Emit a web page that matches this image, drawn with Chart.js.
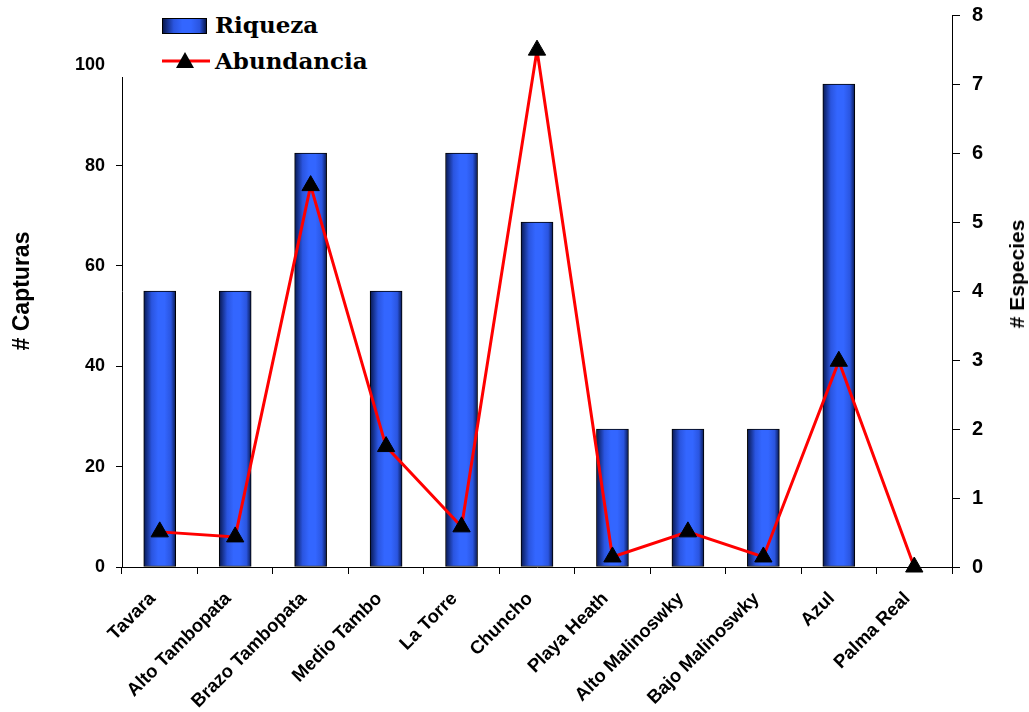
<!DOCTYPE html>
<html>
<head>
<meta charset="utf-8">
<script src="https://cdn.jsdelivr.net/npm/chart.js@4.4.0/dist/chart.umd.min.js"></script>
<style>
    body { margin: 0; background: #fff; }
    #wrap { position: relative; width: 1029px; height: 712px; }
    #legend { position: absolute; left: 108px; top: 0; width: 275px; height: 77px; background: #fff; }
    .leg-item { position: absolute; left: 0; height: 30px; width: 275px; font: bold 23px "DejaVu Serif"; color: #000; }
    .leg-item span { position: absolute; left: 107px; top: 0px; }
    .swatch { position: absolute; left: 54px; top: 7px; width: 43px; height: 14px; border: 1px solid #000;
        background: linear-gradient(to right, #081850, #2a55e0 25%, #3366ff 45%, #3366ff 65%, #2a55e0 85%, #081850); }
    #rightTitle { position: absolute; left: 1017px; top: 274px; transform: translate(-50%, -50%) rotate(-90deg);
        font: bold 21px "Liberation Sans", Arial; white-space: nowrap; }
</style>
</head>
<body>
<div id="wrap">
    <canvas id="chart" width="1029" height="712"></canvas>
    <div id="legend">
        <div class="leg-item" style="top:11px"><div class="swatch"></div><span>Riqueza</span></div>
        <div class="leg-item" style="top:47px">
            <svg width="104" height="30" style="position:absolute;left:52px;top:0">
                <line x1="2" y1="14" x2="50" y2="14" stroke="#ff0000" stroke-width="3"/>
                <polygon points="25,5 34,21 16,21" fill="#000"/>
            </svg>
            <span>Abundancia</span>
        </div>
    </div>
    <div id="rightTitle"># Especies</div>
</div>
<script>
const sitios = ['Tavara', 'Alto Tambopata', 'Brazo Tambopata', 'Medio Tambo', 'La Torre', 'Chuncho',
    'Playa Heath', 'Alto Malinoswky', 'Bajo Malinoswky', 'Azul', 'Palma Real'];
const riqueza = [4, 4, 6, 4, 6, 5, 2, 2, 2, 7, 0];
const abundancia = [7, 6, 76, 24, 8, 103, 2, 7, 2, 41, 0];
const capturasTicks = [0, 20, 40, 60, 80, 100];
const especiesTicks = [0, 1, 2, 3, 4, 5, 6, 7, 8];

const BAR_W = 32;

function barGradient(ctx) {
    const xs = ctx.chart.scales.x;
    const cx = xs ? xs.getPixelForValue(ctx.dataIndex) : NaN;
    if (!isFinite(cx)) return '#3366ff';
    const g = ctx.chart.ctx.createLinearGradient(cx - BAR_W / 2, 0, cx + BAR_W / 2, 0);
    g.addColorStop(0, '#081850');
    g.addColorStop(0.25, '#2a55e0');
    g.addColorStop(0.45, '#3366ff');
    g.addColorStop(0.65, '#3366ff');
    g.addColorStop(0.85, '#2a55e0');
    g.addColorStop(1, '#081850');
    return g;
}

// fixed axis boxes so the plot area lands where the original has it
function fixWidth(w) {
    return s => { s.width = w; s.paddingTop = 0; s.paddingBottom = 0; };
}

new Chart(document.getElementById('chart'), {
    type: 'bar',
    data: {
        labels: sitios,
        datasets: [{
            type: 'line',
            label: 'Abundancia',
            data: abundancia,
            yAxisID: 'y',
            borderColor: '#ff0000',
            borderWidth: 3,
            tension: 0,
            pointStyle: 'triangle',
            pointRadius: 10,
            pointBackgroundColor: '#000',
            pointBorderColor: '#000',
            pointBorderWidth: 1,
            clip: false,
            order: 1
        }, {
            label: 'Riqueza',
            data: riqueza,
            yAxisID: 'y1',
            backgroundColor: barGradient,
            borderColor: '#000',
            borderWidth: 1,
            borderSkipped: false,
            barThickness: BAR_W,
            order: 2
        }]
    },
    options: {
        responsive: false,
        animation: false,
        layout: { padding: { top: 15, left: 0, right: 0, bottom: 0 } },
        plugins: { legend: { display: false }, tooltip: { enabled: false } },
        scales: {
            x: {
                grid: { drawOnChartArea: false, color: '#000', tickLength: 7, offset: true },
                border: { color: '#000', width: 1 },
                ticks: {
                    color: '#000', font: { family: 'Liberation Sans', weight: 'bold', size: 18.5 },
                    minRotation: 45, maxRotation: 45, autoSkip: false, padding: 14, labelOffset: -7
                },
                afterFit: s => { s.height = 145; s.paddingLeft = 0; s.paddingRight = 0; }
            },
            y: {
                position: 'left',
                min: 0, max: 110,
                afterBuildTicks: s => { s.ticks = capturasTicks.map(v => ({ value: v })); },
                grid: { drawOnChartArea: false, color: '#000', tickLength: 6 },
                border: { color: '#000', width: 1 },
                ticks: { color: '#000', padding: 11, font: { family: 'Liberation Sans', weight: 'bold', size: 18 } },
                title: {
                    display: true, text: '# Capturas', color: '#000',
                    font: { family: 'Liberation Sans', weight: 'bold', size: 23 },
                    padding: { top: 9, bottom: 0 }
                },
                afterFit: fixWidth(122)
            },
            y1: {
                position: 'right',
                min: 0, max: 8,
                afterBuildTicks: s => { s.ticks = especiesTicks.map(v => ({ value: v })); },
                grid: { drawOnChartArea: false, color: '#000', tickLength: 8 },
                border: { color: '#000', width: 1 },
                ticks: { color: '#000', padding: 12, font: { family: 'Liberation Sans', weight: 'bold', size: 20 } },
                afterFit: fixWidth(77)
            }
        }
    }
});
</script>
</body>
</html>
